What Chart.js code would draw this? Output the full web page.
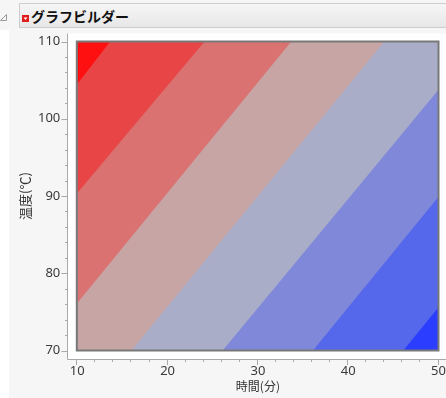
<!DOCTYPE html>
<html>
<head>
<meta charset="utf-8">
<script src="https://cdn.jsdelivr.net/npm/chart.js@4"></script>
<style>
  html, body { margin: 0; padding: 0; background: #f6f6f6; }
  #wrap { position: relative; width: 446px; height: 398px; overflow: hidden; }
  #chart { position: absolute; left: 0; top: 0; }
  #header {
    position: absolute; left: 19px; top: 3px; width: 427px; height: 25px;
    background: linear-gradient(#f6f6f6, #e7e7e7);
    border-top: 1px solid #cdcdcd; border-bottom: 1px solid #cdcdcd; border-left: 1px solid #cdcdcd;
    box-sizing: border-box;
  }
  #header .title {
    position: absolute; left: 11px; top: 2px;
    font: bold 14px "Noto Sans CJK JP", sans-serif; color: #111; line-height: 20px;
  }
  #disclose { position: absolute; left: 0; top: 14px; }
  #menu { position: absolute; left: 2px; top: 11px; }
</style>
</head>
<body>
<div id="wrap">
  <canvas id="chart" width="446" height="398"></canvas>
  <svg id="disclose" width="7" height="7" viewBox="0 0 7 7"><path d="M6.5 0.5 L6.5 6.5 L0.5 6.5 Z" fill="none" stroke="#9a9a9a" stroke-width="1"/></svg>
  <div id="header">
    <svg id="menu" width="7" height="7" viewBox="0 0 7 7"><rect x="0" y="0" width="7" height="7" fill="#e21b1b"/><path d="M1.5 2.5 L5.5 2.5 L3.5 5 Z" fill="#ffffff"/></svg>
    <div class="title">グラフビルダー</div>
  </div>
</div>
<script>
// Axis ranges and tick labels
const xRange = [10, 50];
const yRange = [70, 110];
const xTicks = [10, 20, 30, 40, 50];
const yTicks = [70, 80, 90, 100, 110];
const minorStep = 2;

// Contour boundaries between neighbouring bands, each from (x0, y0) to (x1, y1)
const boundaryX0 = [10, 10, 10, 16.0, 26.1, 36.1, 46.1];
const boundaryY0 = [104.5, 90.4, 76.15, 70, 70, 70, 70];
const boundaryX1 = [13.65, 24.1, 33.7, 44.0, 50, 50, 50];
const boundaryY1 = [110, 110, 110, 110, 103.75, 89.9, 75.6];

// Band colours, from the top-left (hot) band to the bottom-right (cold) band
const bandColors = ['#ff1010', '#e84646', '#da7272', '#c8a5a5', '#a9adc8', '#8088da', '#5567ea', '#2b3dff'];

const xTitle = '時間(分)';
const yTitle = '温度(℃)';

// Plot rectangle as a polygon in data units
const plotRect = [
  { x: xRange[0], y: yRange[0] }, { x: xRange[1], y: yRange[0] },
  { x: xRange[1], y: yRange[1] }, { x: xRange[0], y: yRange[1] }
];

// Keep the part of a polygon lying on the upper-left side of a boundary line
function clipUpperLeft(poly, x0, y0, x1, y1) {
  const dx = x1 - x0, dy = y1 - y0;
  const side = p => dx * (p.y - y0) - dy * (p.x - x0);
  const out = [];
  for (let i = 0; i < poly.length; i++) {
    const a = poly[i], b = poly[(i + 1) % poly.length];
    const sa = side(a), sb = side(b);
    if (sa >= 0) out.push(a);
    if ((sa >= 0) !== (sb >= 0)) {
      const t = sa / (sa - sb);
      out.push({ x: a.x + t * (b.x - a.x), y: a.y + t * (b.y - a.y) });
    }
  }
  if (out.length) out.push(out[0]);
  return out;
}

function bandDataset(points, color, order) {
  return {
    data: points, showLine: true, fill: 'shape',
    backgroundColor: color, borderColor: 'rgba(0,0,0,0)', borderWidth: 0,
    pointRadius: 0, pointHoverRadius: 0, tension: 0, order: order
  };
}

// Coldest band covers the whole plot; each warmer band is laid over the region above its boundary
const datasets = [bandDataset(plotRect.concat([plotRect[0]]), bandColors[bandColors.length - 1], bandColors.length)];
boundaryX0.forEach((x0, i) => {
  const poly = clipUpperLeft(plotRect, x0, boundaryY0[i], boundaryX1[i], boundaryY1[i]);
  datasets.push(bandDataset(poly, bandColors[i], i + 1));
});

const AXIS_GAP = 9;

const panelAndAxes = {
  id: 'panelAndAxes',
  beforeDraw(chart) {
    const { ctx, chartArea: a } = chart;
    ctx.save();
    ctx.fillStyle = '#ffffff';
    ctx.fillRect(0, 30, 9, chart.height - 30);
    ctx.fillRect(a.left - AXIS_GAP - 0.5, a.top - 8, chart.width, a.bottom - a.top + 8 + AXIS_GAP);
    ctx.restore();
  },
  afterDatasetsDraw(chart) {
    const { ctx, chartArea: a, scales: { x, y } } = chart;
    ctx.save();
    // plot frame
    ctx.strokeStyle = '#787878';
    ctx.lineWidth = 2;
    ctx.strokeRect(a.left - 0.5, a.top, a.right - a.left + 0.5, a.bottom - a.top);
    // axis lines
    const ax = Math.round(a.left - AXIS_GAP) - 0.5;
    const ay = Math.round(a.bottom + AXIS_GAP) - 0.5;
    ctx.strokeStyle = '#a9a9a9';
    ctx.lineWidth = 1;
    ctx.beginPath();
    ctx.moveTo(ax, a.top - 8); ctx.lineTo(ax, ay);
    ctx.lineTo(chart.width, ay);
    ctx.stroke();
    // ticks: long at labelled values, short at minor steps
    ctx.beginPath();
    for (let v = yRange[0]; v <= yRange[1] + 1e-9; v += minorStep) {
      const py = Math.round(y.getPixelForValue(v)) + 0.5;
      const len = yTicks.includes(v) ? 6 : 2.5;
      ctx.moveTo(ax, py); ctx.lineTo(ax - len, py);
    }
    for (let v = xRange[0]; v <= xRange[1] + 1e-9; v += minorStep) {
      const px = Math.round(x.getPixelForValue(v)) - 0.5;
      const len = xTicks.includes(v) ? 5.5 : 2.5;
      ctx.moveTo(px, ay); ctx.lineTo(px, ay + len);
    }
    ctx.stroke();
    ctx.restore();
  }
};

new Chart(document.getElementById('chart'), {
  type: 'scatter',
  data: { datasets },
  plugins: [panelAndAxes],
  options: {
    responsive: false,
    animation: false,
    devicePixelRatio: 1,
    events: [],
    layout: { padding: { top: 41.5, right: 7.5, left: 0, bottom: 0 } },
    plugins: { legend: { display: false }, tooltip: { enabled: false } },
    scales: {
      x: {
        type: 'linear', min: xRange[0], max: xRange[1],
        grid: { display: false, drawTicks: false }, border: { display: false },
        afterBuildTicks: s => { s.ticks = xTicks.map(v => ({ value: v })); },
        afterFit: s => { s.height = 47.5; s.paddingLeft = 0; s.paddingRight = 0; },
        ticks: { padding: 13, maxRotation: 0, color: '#3a3a3a', font: { family: '"Noto Sans", sans-serif', size: 13 } },
        title: { display: true, text: xTitle, color: '#333', padding: { top: 0, bottom: 4 },
                 font: { family: '"Noto Sans CJK JP", sans-serif', size: 12 } }
      },
      y: {
        type: 'linear', min: yRange[0], max: yRange[1],
        grid: { display: false, drawTicks: false }, border: { display: false },
        afterBuildTicks: s => { s.ticks = yTicks.map(v => ({ value: v })); },
        afterFit: s => { s.width = 77.3; s.paddingTop = 0; s.paddingBottom = 0; },
        ticks: { padding: 17, color: '#3a3a3a', font: { family: '"Noto Sans", sans-serif', size: 13 } },
        title: { display: true, text: yTitle, color: '#333', padding: { top: 17, bottom: 0 },
                 font: { family: '"Noto Sans CJK JP", sans-serif', size: 13 } }
      }
    }
  }
});
</script>
</body>
</html>
